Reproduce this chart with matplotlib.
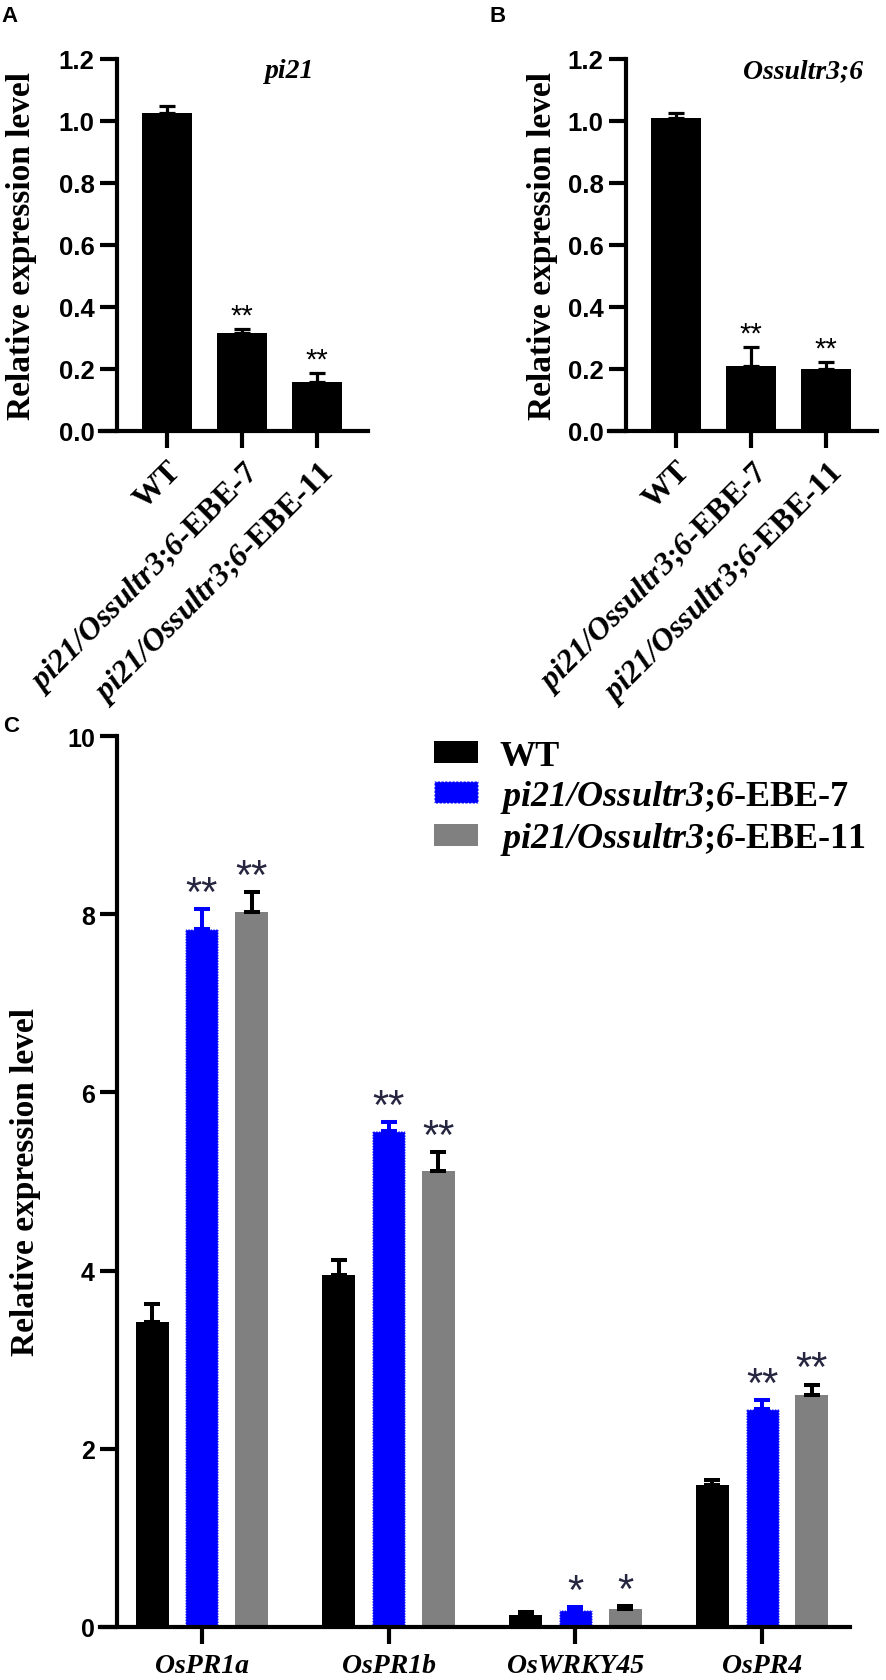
import matplotlib
matplotlib.use('Agg')
import matplotlib.pyplot as plt
from matplotlib.patches import Patch
import numpy as np

# fonts: Times-like serif for labels, Arial-like sans for numbers
plt.rcParams['mathtext.fontset'] = 'custom'
plt.rcParams['mathtext.rm'] = 'Liberation Serif:bold'
plt.rcParams['mathtext.bf'] = 'Liberation Serif:bold'
plt.rcParams['mathtext.it'] = 'Liberation Serif:italic:bold'
plt.rcParams['mathtext.sf'] = 'Liberation Serif:italic:bold'

# Panel A / B data
lines = ['WT', 'pi21/Ossultr3;6-EBE-7', 'pi21/Ossultr3;6-EBE-11']
pi21_mean = [1.025, 0.315, 0.157]
pi21_err = [0.025, 0.015, 0.030]
pi21_sig = ['', '**', '**']
sultr_mean = [1.010, 0.210, 0.200]
sultr_err = [0.016, 0.060, 0.022]
sultr_sig = ['', '**', '**']

# Panel C data
genes = ['OsPR1a', 'OsPR1b', 'OsWRKY45', 'OsPR4']
wt_mean = [3.42, 3.95, 0.14, 1.59]
wt_err = [0.21, 0.17, 0.03, 0.06]
ebe7_mean = [7.83, 5.57, 0.19, 2.45]
ebe7_err = [0.23, 0.10, 0.03, 0.10]
ebe7_sig = ['**', '**', '*', '**']
ebe11_mean = [8.03, 5.12, 0.20, 2.60]
ebe11_err = [0.22, 0.21, 0.035, 0.12]
ebe11_sig = ['**', '**', '*', '**']

SERIF = 'Liberation Serif'
SANS = 'Liberation Sans'
W, H = 886, 1681


def fmt_line(name):
    # italic gene part, upright line suffix (semicolon kept outside math to avoid extra space)
    if '-EBE' in name:
        head, tail = name.split('-EBE')
        parts = head.split(';')
        return ';'.join(r'$\mathsf{' + p + '}$' for p in parts) + '-EBE' + tail
    return name


def px_axes(fig, left, top, right, bottom):
    return fig.add_axes([left / W, 1 - bottom / H, (right - left) / W, (bottom - top) / H])


def style_axes(ax, yspine_x):
    for s in ['top', 'right']:
        ax.spines[s].set_visible(False)
    for s in ['left', 'bottom']:
        ax.spines[s].set_linewidth(3)
    ax.spines['left'].set_position(('data', yspine_x))
    ax.tick_params(width=3, length=12)


def small_panel(ax, means, errs, sig, title, title_x, ylab_x):
    x = np.arange(len(means))
    ax.bar(x, means, width=0.667, color='black',
           yerr=[np.zeros(len(means)), errs], capsize=5.8,
           error_kw=dict(elinewidth=2.3, capthick=2.3, ecolor='black'))
    for xi, m, e, s in zip(x, means, errs, sig):
        if s:
            ax.annotate(s, xy=(xi, m + e), xytext=(0, 4), textcoords='offset points',
                        ha='center', va='baseline', fontsize=21, family=SANS)
    ax.set_xlim(-0.893, 2.68)
    ax.set_ylim(0, 1.2)
    style_axes(ax, -0.667)
    ticks = np.arange(0, 1.21, 0.2)
    ax.set_yticks(ticks)
    ax.set_yticklabels(['%.1f' % v for v in ticks], fontsize=18.5, family=SANS, weight='bold')
    ax.tick_params(axis='y', pad=4)
    ax.set_xticks(x)
    ax.set_xticklabels([fmt_line(n) for n in lines], rotation=45, ha='right',
                       rotation_mode='anchor', fontsize=23, family=SERIF, weight='bold')
    ax.tick_params(axis='x', pad=6)
    ax.set_ylabel('Relative expression level', fontsize=24, family=SERIF, weight='bold')
    ax.yaxis.set_label_coords(ylab_x, 0.5)
    ax.text(title_x, 0.968, title, transform=ax.transAxes, ha='center', va='center',
            fontsize=20, style='italic', weight='bold', family=SERIF)


fig = plt.figure(figsize=(W / 100, H / 100), dpi=100)

axA = px_axes(fig, 100, 60, 368, 432)
small_panel(axA, pi21_mean, pi21_err, pi21_sig, 'pi21', 0.709, -0.236)
axB = px_axes(fig, 609, 60, 877, 432)
small_panel(axB, sultr_mean, sultr_err, sultr_sig, 'Ossultr3;6', 0.724, -0.19)

# Panel C
axC = px_axes(fig, 100, 737, 850, 1628)
x = np.arange(len(genes))
off, bw = 0.267, 0.177
ekw_black = dict(elinewidth=2.9, capthick=2.9, ecolor='black')
ekw_blue = dict(elinewidth=2.9, capthick=2.9, ecolor='#0000ff')
zero = np.zeros(len(genes))
axC.bar(x - off, wt_mean, width=bw, color='black', yerr=[zero, wt_err],
        capsize=6.1, error_kw=ekw_black)
axC.bar(x, ebe7_mean, width=bw, color='#0000ff', edgecolor='white', linestyle=(0, (1, 1)),
        linewidth=1, yerr=[zero, ebe7_err], capsize=6.1, error_kw=ekw_blue)
axC.bar(x + off, ebe11_mean, width=bw, color='#808080', yerr=[zero, ebe11_err],
        capsize=6.1, error_kw=ekw_black)
for xs, ms, es, ss in [(x, ebe7_mean, ebe7_err, ebe7_sig),
                       (x + off, ebe11_mean, ebe11_err, ebe11_sig)]:
    for xi, m, e, s in zip(xs, ms, es, ss):
        axC.annotate(s, xy=(xi, m + e), xytext=(0, 3), textcoords='offset points',
                     ha='center', va='baseline', fontsize=30, family=SANS, color='#262640')
axC.set_xlim(-0.546, 3.471)
axC.set_ylim(0, 10)
style_axes(axC, -0.455)
axC.set_yticks(np.arange(0, 11, 2))
axC.set_yticklabels([str(v) for v in range(0, 11, 2)], fontsize=18, family=SANS, weight='bold')
axC.tick_params(axis='y', pad=4)
axC.set_xticks(x)
axC.set_xticklabels(genes, fontsize=20, family=SERIF, weight='bold', style='italic')
axC.tick_params(axis='x', pad=7)
axC.set_ylabel('Relative expression level', fontsize=24, family=SERIF, weight='bold')
axC.yaxis.set_label_coords(-0.079, 0.5)

handles = [Patch(facecolor='black'),
           Patch(facecolor='#0000ff', edgecolor='white', linestyle=':', linewidth=1),
           Patch(facecolor='#808080')]
axC.legend(handles, [fmt_line(n) for n in lines], loc='upper left',
           bbox_to_anchor=(0.445, 0.996), frameon=False,
           prop=dict(family=SERIF, weight='bold', size=26),
           handlelength=1.22, handleheight=0.55, handletextpad=0.61,
           labelspacing=0.15, borderpad=0, borderaxespad=0)

# panel letters
for letter, px, py in [('A', 10, 17), ('B', 498, 17), ('C', 11, 727)]:
    fig.text(px / W, 1 - py / H, letter, ha='center', va='center',
             fontsize=16, weight='bold', family=SANS)

fig.savefig('out.png', dpi=100)
